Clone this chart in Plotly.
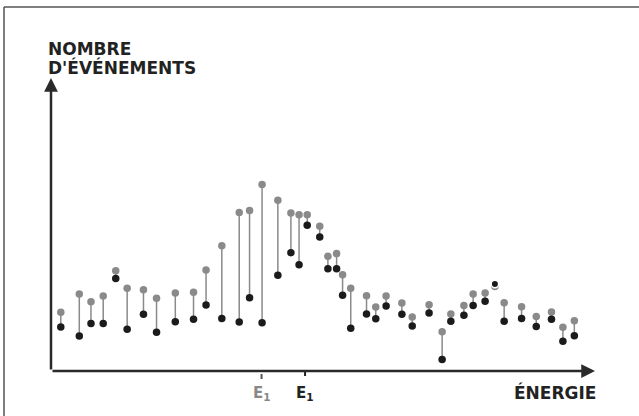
import plotly.graph_objects as go

# energie (unites arbitraires, 0-100 sur l'axe)
energie = [1.8, 5.2, 7.35, 9.6, 11.9, 14.0, 17.0, 19.4, 22.85, 26.2,
           28.5, 31.4, 34.6, 36.5, 38.8, 41.7, 44.1, 45.6, 47.1, 49.4,
           50.9, 52.5, 53.6, 55.1, 58.0, 59.7, 61.6, 64.5, 66.4, 69.5,
           71.9, 73.5, 75.9, 77.6, 79.8, 81.6, 83.3, 86.5, 89.2, 92.0,
           94.1, 96.2]
# nombre d'evenements, serie grise (haut)
n_gris = [20.1, 26.4, 23.7, 25.7, 34.3, 28.3, 27.8, 24.9, 26.7, 27.0,
          34.6, 42.9, 54.3, 55.0, 63.9, 58.5, 54.1, 53.5, 53.5, 49.6,
          39.3, 40.2, 33.0, 28.3, 25.8, 21.9, 25.7, 23.3, 18.5, 22.7,
          13.4, 19.5, 22.4, 26.4, 26.7, 28.9, 23.4, 22.0, 18.7, 20.2,
          15.0, 17.2]
# nombre d'evenements, serie noire (bas)
n_noir = [15.1, 12.0, 16.3, 16.3, 31.7, 14.3, 19.4, 13.3, 16.9, 17.7,
          22.6, 18.0, 16.8, 25.1, 16.5, 32.8, 40.5, 36.4, 49.9, 45.9,
          35.0, 35.0, 25.9, 14.6, 19.5, 17.9, 22.3, 19.4, 15.4, 19.9,
          3.9, 17.0, 19.1, 22.4, 23.9, 29.8, 17.0, 18.0, 15.2, 17.7,
          10.2, 12.1]
# positions des deux E1 sur l'axe
e1_gris = 38.7
e1_noir = 46.7

GRIS = "#8a8a8a"
NOIR = "#1b1b1b"

# segments verticaux
lx, ly = [], []
for x, a, b in zip(energie, n_gris, n_noir):
    lx += [x, x, None]
    ly += [a, b, None]

fig = go.Figure()
fig.add_trace(go.Scatter(x=lx, y=ly, mode="lines",
                         line=dict(color=GRIS, width=1.5), hoverinfo="skip"))
fig.add_trace(go.Scatter(x=energie, y=n_gris, mode="markers",
                         marker=dict(color=GRIS, size=7.5)))
lw = [1.5 if abs(a - b) < 1.5 else 0 for a, b in zip(n_gris, n_noir)]
fig.add_trace(go.Scatter(x=energie, y=n_noir, mode="markers",
                         marker=dict(color=NOIR, size=7.5,
                                     line=dict(color="white", width=lw))))

# conversion pixels -> papier pour le decor
L, R, T, B = 51, 44, 79, 45
W, H = 639 - L - R, 416 - T - B
def px(v):
    return (v - L) / W
def py(v):
    return (416 - B - v) / H

# axes avec fleches
fig.add_annotation(x=0, y=100.3, ax=0, ay=0, xref="x", yref="y", axref="x", ayref="y",
                   text="", showarrow=True, arrowhead=2, arrowsize=1.1,
                   arrowwidth=2.5, arrowcolor="#2a2a2a", standoff=0)
fig.add_annotation(x=100, y=0, ax=0, ay=0, xref="x", yref="y", axref="x", ayref="y",
                   text="", showarrow=True, arrowhead=2, arrowsize=1.1,
                   arrowwidth=2.5, arrowcolor="#2a2a2a", standoff=0)

# cadre (haut et gauche)
fig.add_shape(type="line", xref="paper", yref="paper", x0=px(4), x1=px(640),
              y0=py(7), y1=py(7), line=dict(color="#555", width=1.5))
fig.add_shape(type="line", xref="paper", yref="paper", x0=px(4), x1=px(4),
              y0=py(7), y1=py(417), line=dict(color="#555", width=1.5))

# graduations E1
fig.add_shape(type="line", xref="x", yref="paper", x0=e1_gris, x1=e1_gris,
              y0=py(374), y1=py(379), line=dict(color="#555", width=2))
fig.add_shape(type="line", xref="x", yref="paper", x0=e1_noir, x1=e1_noir,
              y0=py(371), y1=py(376), line=dict(color="#222", width=2))

police = "DejaVu Sans"
fig.add_annotation(x=e1_gris, y=py(393), xref="x", yref="paper", showarrow=False,
                   text="<b>E<sub>1</sub></b>", font=dict(family=police, size=15, color="#888"),
                   xanchor="center", yanchor="middle")
fig.add_annotation(x=e1_noir, y=py(393), xref="x", yref="paper", showarrow=False,
                   text="<b>E<sub>1</sub></b>", font=dict(family=police, size=15, color="#222"),
                   xanchor="center", yanchor="middle")
fig.add_annotation(x=px(598), y=py(392.5), xref="paper", yref="paper", showarrow=False,
                   text="<b>ÉNERGIE</b>", font=dict(family=police, size=17, color="#222"),
                   xanchor="right", yanchor="middle")
fig.add_annotation(x=px(46), y=py(49), xref="paper", yref="paper", showarrow=False,
                   text="<b>NOMBRE</b>", font=dict(family=police, size=17, color="#222"),
                   xanchor="left", yanchor="middle")
fig.add_annotation(x=px(46), y=py(67), xref="paper", yref="paper", showarrow=False,
                   text="<b>D'ÉVÉNEMENTS</b>", font=dict(family=police, size=17, color="#222"),
                   xanchor="left", yanchor="middle")

fig.update_layout(
    width=639, height=416,
    margin=dict(l=L, r=R, t=T, b=B),
    showlegend=False,
    plot_bgcolor="white", paper_bgcolor="white",
    xaxis=dict(range=[0, 100], visible=False, fixedrange=True),
    yaxis=dict(range=[0, 100], visible=False, fixedrange=True),
)
fig.write_html("out.html", config={"displayModeBar": False},
               post_script="document.body.style.margin='0px';")
